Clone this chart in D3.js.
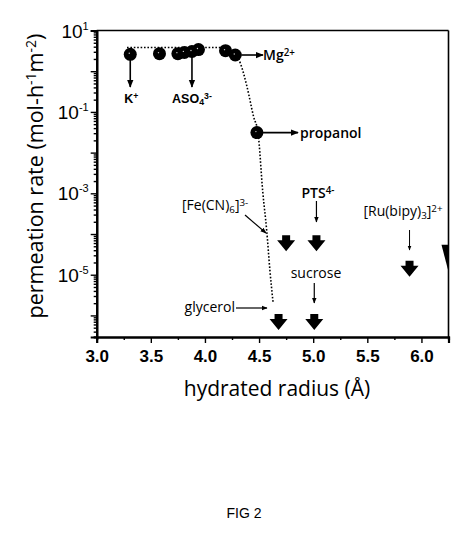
<!DOCTYPE html>
<html>
<head>
<meta charset="utf-8">
<script src="https://cdn.jsdelivr.net/npm/d3@7"></script>
<style>
  body { margin: 0; background: #fff; }
  svg { display: block; }
</style>
</head>
<body>
<div id="chart"></div>
<script>
// measured points (hydrated radius in Å, permeation rate in mol·h-1·m-2)
const circleRadius = [3.31, 3.58, 3.75, 3.81, 3.88, 3.94, 4.19, 4.28, 4.48];
const circleRate = [2.6, 2.7, 2.7, 2.9, 3.05, 3.4, 3.2, 2.5, 0.031];

// upper limits (below detection), drawn as down arrows
const limitRadius = [4.75, 5.03, 5.89, 4.68, 5.01];
const limitRate = [5.9e-5, 5.9e-5, 1.4e-5, 6.9e-7, 6.9e-7];

// marker clipped by the right border
const edgeRadius = [6.25];
const edgeRate = [2.6e-5];

// dotted fit curve
const fitRadius = [3.28, 4.14, 4.24, 4.33, 4.39, 4.45, 4.49, 4.535, 4.57, 4.60, 4.63];
const fitRate = [3.81, 3.81, 3.2, 1.5, 0.4, 0.075, 0.031, 1.02e-3, 1.26e-4, 1.3e-5, 2.0e-6];

const xTicks = [3.0, 3.5, 4.0, 4.5, 5.0, 5.5, 6.0];
const xMinor = [3.25, 3.75, 4.25, 4.75, 5.25, 5.75];
const yDecades = [1, 0, -1, -2, -3, -4, -5, -6];
const yLabelled = [1, -1, -3, -5];

const width = 467, height = 557;
const plotLeft = 96.7, plotRight = 448.5, plotTop = 30.5, plotBottom = 337;

const svg = d3.select('#chart').append('svg')
  .attr('width', width).attr('height', height);

const defs = svg.append('defs');
defs.append('clipPath').attr('id', 'plot-clip')
  .append('rect').attr('x', plotLeft).attr('y', plotTop)
  .attr('width', plotRight - plotLeft).attr('height', plotBottom - plotTop);
defs.append('marker').attr('id', 'head')
  .attr('viewBox', '0 0 10 10').attr('refX', 9).attr('refY', 5)
  .attr('markerWidth', 5).attr('markerHeight', 5)
  .attr('orient', 'auto')
  .append('path').attr('d', 'M0,1L10,5L0,9Z').attr('fill', '#000');

const x = d3.scaleLinear().domain([3.0, 6.25]).range([plotLeft, plotRight]);
const y = d3.scaleLog().domain([Math.pow(10, -6.53), 10]).range([plotBottom, plotTop]);

// minor log ticks
let yMinor = [];
yDecades.forEach(function (p) {
  for (let k = 2; k <= 9; k++) {
    const v = k * Math.pow(10, p - 1);
    if (v >= y.domain()[0] && v <= y.domain()[1]) yMinor.push(v);
  }
});

const axisFont = '"Liberation Sans", Arial, sans-serif';
const textFont = '"Open Sans", "Noto Sans", sans-serif';

// frame
svg.append('line').attr('x1', plotLeft).attr('x2', plotRight).attr('y1', plotTop).attr('y2', plotTop)
  .attr('stroke', '#000').attr('stroke-width', 1.6);
svg.append('line').attr('x1', plotRight).attr('x2', plotRight).attr('y1', plotTop).attr('y2', plotBottom)
  .attr('stroke', '#000').attr('stroke-width', 1.6);

// y axis
const gy = svg.append('g').attr('transform', 'translate(' + plotLeft + ',0)');
gy.call(d3.axisLeft(y).tickValues(yMinor).tickSize(3).tickFormat(''));
gy.append('g').call(d3.axisLeft(y).tickValues(yDecades.map(p => Math.pow(10, p))).tickSize(6).tickFormat(''));
gy.selectAll('path.domain').attr('stroke-width', 2.2);
gy.selectAll('.tick line').attr('stroke-width', 1.4);

yLabelled.forEach(function (p) {
  const t = gy.append('text')
    .attr('x', -8).attr('y', y(Math.pow(10, p)) + 7)
    .attr('text-anchor', 'end')
    .attr('font-family', axisFont).attr('font-size', 19).attr('fill', '#000');
  t.append('tspan').text('10');
  t.append('tspan').attr('dy', -8).attr('font-size', 11).text(p < 0 ? '-' + (-p) : p);
});

// x axis
const gx = svg.append('g').attr('transform', 'translate(0,' + plotBottom + ')');
gx.call(d3.axisBottom(x).tickValues(xMinor).tickSize(3).tickFormat(''));
gx.append('g').call(d3.axisBottom(x).tickValues(xTicks).tickSize(6).tickFormat(d3.format('.1f')));
gx.selectAll('path.domain').attr('stroke-width', 2.2);
gx.selectAll('.tick line').attr('stroke-width', 1.4);
gx.selectAll('.tick text')
  .attr('font-family', axisFont).attr('font-size', 17).attr('font-weight', 'bold')
  .attr('fill', '#000').attr('dy', '0.95em');

// axis titles
const yt = svg.append('text')
  .attr('transform', 'translate(43,' + 176 + ') rotate(-90)')
  .attr('text-anchor', 'middle')
  .attr('font-family', textFont).attr('font-size', 21.5).attr('fill', '#000');
yt.append('tspan').text('permeation rate (mol-h');
yt.append('tspan').attr('dy', -7).attr('font-size', 14).text('-1');
yt.append('tspan').attr('dy', 7).text('m');
yt.append('tspan').attr('dy', -7).attr('font-size', 14).text('-2');
yt.append('tspan').attr('dy', 7).text(')');

svg.append('text')
  .attr('x', 277).attr('y', 396)
  .attr('text-anchor', 'middle')
  .attr('font-family', textFont).attr('font-size', 21).attr('fill', '#000')
  .text('hydrated radius (Å)');

// plot contents
const plot = svg.append('g').attr('clip-path', 'url(#plot-clip)');

const fit = d3.range(fitRadius.length);
plot.append('path')
  .datum(fit)
  .attr('fill', 'none').attr('stroke', '#000')
  .attr('stroke-width', 1.6).attr('stroke-dasharray', '1.6,1.8')
  .attr('d', d3.line().curve(d3.curveMonotoneX)
    .x(i => x(fitRadius[i])).y(i => y(fitRate[i])));

plot.selectAll('circle.pt')
  .data(d3.range(circleRadius.length))
  .enter().append('circle').attr('class', 'pt')
  .attr('cx', i => x(circleRadius[i])).attr('cy', i => y(circleRate[i]))
  .attr('r', 6.5).attr('fill', '#000');
plot.selectAll('circle.hl')
  .data(d3.range(circleRadius.length))
  .enter().append('circle').attr('class', 'hl')
  .attr('cx', i => x(circleRadius[i]) - 1).attr('cy', i => y(circleRate[i]) - 1)
  .attr('r', 0.7).attr('fill', '#fff').attr('opacity', 0.8);

// down-arrow marker: stem + head
const arrowShape = 'M-4,-8L4,-8L4,-3L9,-3L0,8L-9,-3L-4,-3Z';
plot.selectAll('path.limit')
  .data(d3.range(limitRadius.length))
  .enter().append('path').attr('class', 'limit')
  .attr('transform', i => 'translate(' + x(limitRadius[i]) + ',' + y(limitRate[i]) + ')')
  .attr('d', arrowShape).attr('fill', '#000');

plot.selectAll('path.edge')
  .data(d3.range(edgeRadius.length))
  .enter().append('path').attr('class', 'edge')
  .attr('transform', i => 'translate(' + x(edgeRadius[i]) + ',' + y(edgeRate[i]) + ')')
  .attr('d', 'M-7,-13L7,-13L0,14Z').attr('fill', '#000');

// annotations
function arrow(x1, y1, x2, y2, w) {
  svg.append('line')
    .attr('x1', x1).attr('y1', y1).attr('x2', x2).attr('y2', y2)
    .attr('stroke', '#000').attr('stroke-width', w || 1.3)
    .attr('marker-end', 'url(#head)');
}
function label(tx, ty, anchor, parts, opts) {
  opts = opts || {};
  const t = svg.append('text')
    .attr('x', tx).attr('y', ty).attr('text-anchor', anchor)
    .attr('font-family', opts.font || textFont)
    .attr('font-size', opts.size || 13)
    .attr('font-weight', opts.weight || 'normal')
    .attr('fill', '#000');
  parts.forEach(function (p) {
    const s = t.append('tspan').text(p[0]);
    if (p[1] === 'sup') s.attr('baseline-shift', '45%').attr('font-size', (opts.size || 13) * 0.7);
    if (p[1] === 'sub') s.attr('baseline-shift', '-25%').attr('font-size', (opts.size || 13) * 0.7);
  });
}

const cx = i => x(circleRadius[i]);
const cy = i => y(circleRate[i]);

arrow(cx(0), cy(0) + 5, cx(0), 87, 1.6);
label(cx(0) + 1, 103, 'middle', [['K'], ['+', 'sup']], { font: axisFont, weight: 'bold', size: 12.5 });

arrow(cx(4), cy(4) + 5, cx(4), 87, 1.6);
label(cx(4), 103, 'middle', [['ASO'], ['4', 'sub'], ['3-', 'sup']], { font: axisFont, weight: 'bold', size: 12.5 });

arrow(cx(7) + 6, cy(7), 263, cy(7), 1.6);
label(263, cy(7) + 5, 'start', [['Mg'], ['2+', 'sup']], { weight: 600, size: 14 });

arrow(cx(8) + 6, cy(8), 298, cy(8), 1.6);
label(300, cy(8) + 5, 'start', [['propanol']], { weight: 600, size: 14 });

label(182, 210, 'start', [['[Fe(CN)'], ['6', 'sub'], [']'], ['3-', 'sup']], { size: 14 });
arrow(245, 215, 266, 233, 1.2);

label(318, 198, 'middle', [['PTS'], ['4-', 'sup']], { weight: 600, size: 14 });
arrow(x(limitRadius[1]), 201, x(limitRadius[1]), 222, 1.2);

label(403, 216, 'middle', [['[Ru(bipy)'], ['3', 'sub'], [']'], ['2+', 'sup']], { size: 14 });
arrow(x(limitRadius[2]), 230, x(limitRadius[2]), 250, 1);

label(316, 278, 'middle', [['sucrose']], { size: 14 });
arrow(x(limitRadius[4]), 283, x(limitRadius[4]), 303, 1.2);

label(235, 312, 'end', [['glycerol']], { size: 14 });
arrow(236, 308, 267, 308, 1.2);

// figure caption
svg.append('text')
  .attr('x', 244).attr('y', 518).attr('text-anchor', 'middle')
  .attr('font-family', axisFont).attr('font-size', 14).attr('fill', '#000')
  .text('FIG 2');
</script>
</body>
</html>
